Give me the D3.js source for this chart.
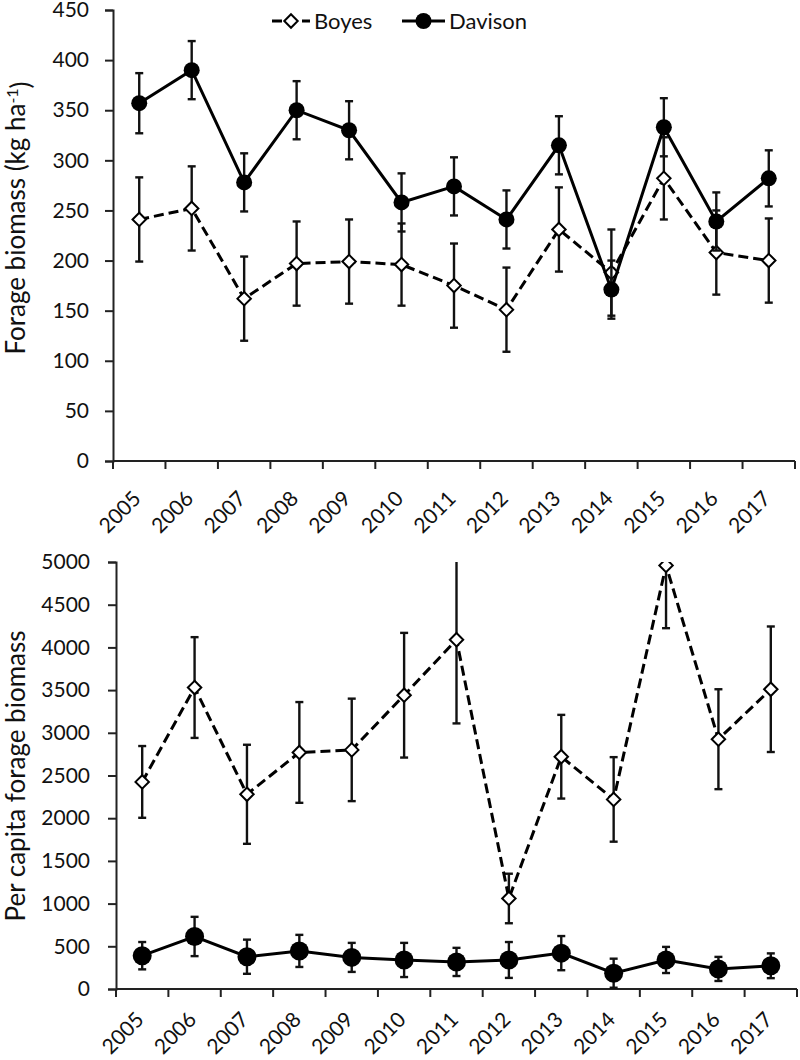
<!DOCTYPE html>
<html><head><meta charset="utf-8">
<script src="https://cdn.jsdelivr.net/npm/d3@7"></script>
<style>
html,body{margin:0;padding:0;background:#fff;}
svg{display:block;font-family:Lato,"Open Sans",sans-serif;}
</style></head>
<body><svg id="chart" width="800" height="1060"></svg>
<script>
const years = ["2005","2006","2007","2008","2009","2010","2011","2012","2013","2014","2015","2016","2017"];
// Panel A: forage biomass (kg ha-1)
const boyesBiomass    = [241,252,162,197,199,196,175,151,231,188,282,208,200];
const boyesBiomassSE  = [42,42,42,42,42,41,42,42,42,43,41,42,42];
const davisonBiomass  = [357,390,278,350,330,258,274,241,315,171,333,239,282];
const davisonBiomassSE= [30,29,29,29,29,29,29,29,29,29,29,29,28];
const biomassTicks = [0,50,100,150,200,250,300,350,400,450];
// Panel B: per capita forage biomass
const boyesPerCapita    = [2425,3530,2280,2770,2800,3440,4090,1060,2720,2220,4960,2925,3510];
const boyesPerCapitaSE  = [420,590,580,590,600,730,980,290,490,495,735,585,735];
const davisonPerCapita  = [390,615,378,446,370,340,317,340,420,185,340,235,272];
const davisonPerCapitaSE= [160,230,200,188,170,200,165,210,200,170,153,141,145];
const perCapitaTicks = [0,500,1000,1500,2000,2500,3000,3500,4000,4500,5000];

const svg = d3.select("#chart");
const TXT = "#111";

function panel(cfg){
  const g = svg.append("g");
  const x = d3.scaleBand().domain(years).range([cfg.left, cfg.right]).padding(0);
  const y = d3.scaleLinear().domain([0, cfg.max]).range([cfg.bottom, cfg.top]);
  const cx = d => x(d) + x.bandwidth()/2;
  const clipId = "clip" + cfg.id;
  svg.append("clipPath").attr("id", clipId).append("rect")
    .attr("x", cfg.left - 15).attr("y", cfg.top).attr("width", cfg.right - cfg.left + 30).attr("height", cfg.bottom - cfg.top + 20);

  // y axis
  const ya = d3.axisLeft(y).tickValues(cfg.ticks).tickSize(8).tickPadding(cfg.tickPad).tickFormat(d3.format("d"));
  const yg = g.append("g").attr("transform", `translate(${cfg.left},0)`).call(ya);
  yg.select(".domain").attr("stroke","#222").attr("stroke-width",2);
  yg.selectAll(".tick line").attr("stroke","#222").attr("stroke-width",2);
  yg.selectAll(".tick text").attr("font-size",21).attr("fill",TXT).attr("font-family","Lato,sans-serif");

  // x axis: ticks at category boundaries
  const xg = g.append("g").attr("transform", `translate(0,${cfg.bottom})`);
  xg.append("line").attr("x1", cfg.left).attr("x2", cfg.right).attr("stroke","#222").attr("stroke-width",2);
  const bounds = years.map(d => x(d)).concat([cfg.right]);
  xg.selectAll("line.tk").data(bounds).join("line").attr("class","tk")
    .attr("x1", d=>d).attr("x2", d=>d).attr("y1",0).attr("y2",8).attr("stroke","#222").attr("stroke-width",2);
  xg.selectAll("text").data(years).join("text")
    .attr("transform", d => `translate(${cx(d)+3},${cfg.xlabY}) rotate(-45)`)
    .attr("text-anchor","end")
    .attr("font-size",21).attr("fill",TXT).text(d=>d);

  // y title
  const yt = g.append("text")
    .attr("transform", `translate(${cfg.titleX},${cfg.titleY}) rotate(-90)`)
    .attr("text-anchor","middle").attr("font-size",26).attr("fill",TXT);
  cfg.title(yt);

  const plot = g.append("g").attr("clip-path", `url(#${clipId})`);
  const series = [
    {v: cfg.boyes, se: cfg.boyesSE, dash: "10,5", marker: "diamond"},
    {v: cfg.davison, se: cfg.davisonSE, dash: null, marker: "circle"}
  ];
  series.forEach(s => {
    const data = years.map((yr,i) => ({yr, v: s.v[i], se: s.se[i]}));
    const eb = plot.append("g");
    data.forEach(d => {
      const x0 = cx(d.yr);
      eb.append("line").attr("x1",x0).attr("x2",x0).attr("y1",y(d.v - d.se)).attr("y2",y(d.v + d.se))
        .attr("stroke","#111").attr("stroke-width",2.4);
      [d.v - d.se, d.v + d.se].forEach(e => {
        eb.append("line").attr("x1",x0-4).attr("x2",x0+4).attr("y1",y(e)).attr("y2",y(e))
          .attr("stroke","#111").attr("stroke-width",2.4);
      });
    });
    plot.append("path").datum(data)
      .attr("d", d3.line().x(d=>cx(d.yr)).y(d=>y(d.v)))
      .attr("fill","none").attr("stroke","#000").attr("stroke-width",3)
      .attr("stroke-dasharray", s.dash);
    if (s.marker === "diamond") {
      plot.selectAll(null).data(data).join("path")
        .attr("transform", d=>`translate(${cx(d.yr)},${y(d.v)})`)
        .attr("d", d3.symbol().type(d3.symbolDiamond2).size(cfg.diaSize))
        .attr("fill","#fff").attr("stroke","#000").attr("stroke-width",2);
    } else {
      plot.selectAll(null).data(data).join("circle")
        .attr("cx", d=>cx(d.yr)).attr("cy", d=>y(d.v)).attr("r", cfg.r)
        .attr("fill","#000");
    }
  });
  return {x,y};
}

panel({id:"a", left:113, right:795, top:10, bottom:461, max:450, ticks:biomassTicks, tickPad:16,
  boyes:boyesBiomass, boyesSE:boyesBiomassSE, davison:davisonBiomass, davisonSE:davisonBiomassSE,
  r:8, diaSize:115, titleX:25, titleY:218, xlabY:39,
  title: t => { t.append("tspan").text("Forage biomass (kg ha");
                t.append("tspan").attr("dy","-0.45em").attr("font-size",16).text("-1");
                t.append("tspan").attr("dy","0.45em").text(")"); }});

panel({id:"b", left:116, right:797, top:562, bottom:989, max:5000, ticks:perCapitaTicks, tickPad:18,
  boyes:boyesPerCapita, boyesSE:boyesPerCapitaSE, davison:davisonPerCapita, davisonSE:davisonPerCapitaSE,
  r:9.5, diaSize:115, titleX:25, titleY:776, xlabY:32,
  title: t => t.text("Per capita forage biomass")});

// legend
const lg = svg.append("g");
const legendItems = [
  {name:"Boyes", x1:272, x2:310, dash:"10,5", marker:"diamond"},
  {name:"Davison", x1:402, x2:445, dash:null, marker:"circle"}
];
legendItems.forEach(it => {
  const ly = 21;
  lg.append("line").attr("x1",it.x1).attr("x2",it.x2).attr("y1",ly).attr("y2",ly)
    .attr("stroke","#000").attr("stroke-width",3).attr("stroke-dasharray",it.dash);
  const mx = (it.x1+it.x2)/2;
  if (it.marker==="diamond") {
    lg.append("path").attr("transform",`translate(${mx},${ly})`)
      .attr("d", d3.symbol().type(d3.symbolDiamond2).size(115))
      .attr("fill","#fff").attr("stroke","#000").attr("stroke-width",2);
  } else {
    lg.append("circle").attr("cx",mx).attr("cy",ly).attr("r",8).attr("fill","#000");
  }
  lg.append("text").attr("x",it.x2+4).attr("y",ly).attr("dy","0.36em")
    .attr("font-size",22).attr("fill",TXT).text(it.name);
});
</script></body></html>
